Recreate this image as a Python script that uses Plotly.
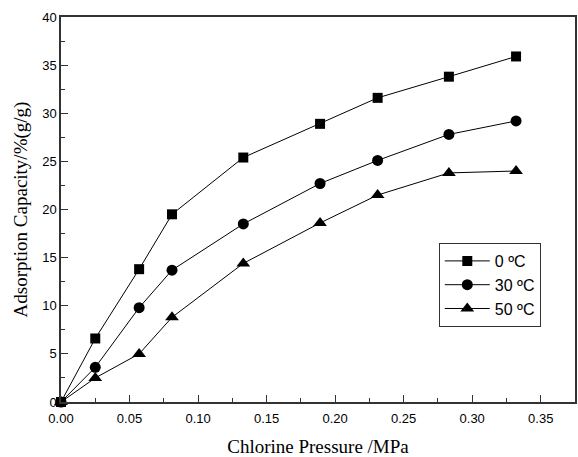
import plotly.graph_objects as go

pressure = [0.0, 0.025, 0.057, 0.081, 0.133, 0.189, 0.231, 0.283, 0.332]
cap_0C = [0.0, 6.6, 13.8, 19.5, 25.4, 28.9, 31.6, 33.8, 35.9]
cap_30C = [0.0, 3.6, 9.8, 13.7, 18.5, 22.7, 25.1, 27.8, 29.2]
cap_50C = [0.0, 2.5, 5.0, 8.8, 14.4, 18.6, 21.5, 23.8, 24.0]
series_names = ["0 ºC", "30 ºC", "50 ºC"]
symbols = ["square", "circle", "triangle-up"]
sizes = [10, 11, 12]

fig = go.Figure()
for name, ys, sym, sz in zip(series_names, [cap_0C, cap_30C, cap_50C], symbols, sizes):
    fig.add_trace(go.Scatter(
        x=pressure, y=ys, name=name, mode="lines+markers",
        line=dict(color="black", width=1),
        marker=dict(symbol=sym, size=sz, color="black"),
        cliponaxis=False,
    ))

axis_common = dict(
    showline=True, linecolor="#333", linewidth=1.5, mirror=True,
    ticks="inside", ticklen=7, tickcolor="#333", tickwidth=1,
    showgrid=False, zeroline=False,
    tickfont=dict(family="Liberation Sans, Arial", size=13, color="black"),
)

fig.update_xaxes(
    range=[0, 0.375], tickvals=[0, 0.05, 0.1, 0.15, 0.2, 0.25, 0.3, 0.35],
    tickformat=".2f", ticklabelstandoff=4,
    minor=dict(ticks="inside", ticklen=4, tickcolor="#333", dtick=0.025, tick0=0),
    title=dict(text="Chlorine Pressure /MPa", standoff=14,
               font=dict(family="Liberation Serif, Times New Roman", size=19, color="black")),
    **axis_common,
)
fig.update_yaxes(
    range=[0, 40], dtick=5,
    minor=dict(ticks="inside", ticklen=4, tickcolor="#333", dtick=2.5, tick0=0),
    title=dict(text="Adsorption Capacity/%(g/g)", standoff=10,
               font=dict(family="Liberation Serif, Times New Roman", size=19, color="black")),
    **axis_common,
)

fig.update_layout(
    width=578, height=457,
    margin=dict(l=61, r=1, t=17, b=55),
    plot_bgcolor="white", paper_bgcolor="white",
    showlegend=True,
    legend=dict(
        x=0.735, y=0.413, xanchor="left", yanchor="top",
        bordercolor="#333", borderwidth=1, bgcolor="white",
        font=dict(family="Liberation Sans, Arial", size=16, color="black"),
        itemwidth=45, tracegroupgap=2,
    ),
)

fig.write_html("out.html")
